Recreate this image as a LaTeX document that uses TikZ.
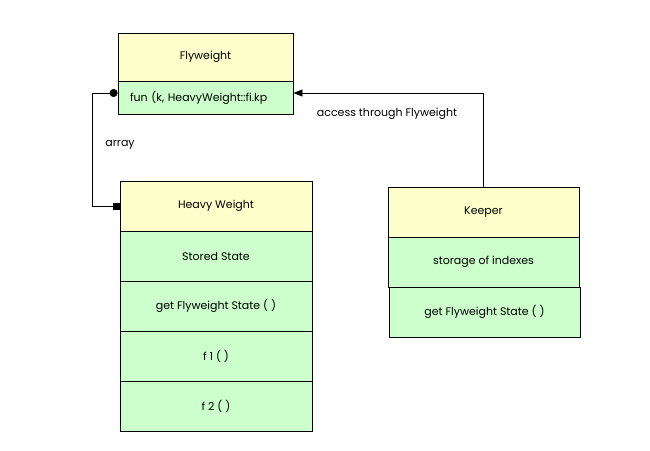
\documentclass[tikz,border=0pt]{standalone}
\usepackage{fontspec}
\setmainfont{Poppins}
\usepackage{tikz}
\usetikzlibrary{arrows.meta,calc}
\definecolor{head}{HTML}{FFFFCC}
\definecolor{body}{HTML}{CCFFCC}
\tikzset{
  every picture/.style={line cap=butt, line join=miter},
  box/.style={draw=black, line width=0.8pt, rectangle, inner sep=0pt,
    font=\fontsize{11}{13}\selectfont},
  hdr/.style={box, fill=head},
  cell/.style={box, fill=body},
  conn/.style={draw=black, line width=0.8pt},
  lab/.style={font=\fontsize{11}{13}\selectfont}
}

\begin{document}
\begin{tikzpicture}[x=1pt, y=-1pt]
  \useasboundingbox (0,0) rectangle (650,450);

  % Flyweight
  \node[hdr, minimum width=175pt, minimum height=48pt] (fw) at (205.5,57) {Flyweight};
  \node[cell, minimum width=175pt, minimum height=33pt, text width=151pt, align=left]
    (fwop) at (205.5,97.5) {fun (k, HeavyWeight::fi.kp};

  % Heavy Weight
  \node[hdr, minimum width=192pt, minimum height=50pt] (hw) at (216,206) {Heavy Weight};
  \node[cell, minimum width=192pt, minimum height=50pt] (hwst) at (216,256) {Stored State};
  \node[cell, minimum width=192pt, minimum height=50pt] (hwget) at (216,306) {get Flyweight State ( )};
  \node[cell, minimum width=192pt, minimum height=50pt] (hwfa) at (216,356) {f 1 ( )};
  \node[cell, minimum width=192pt, minimum height=50pt] (hwfb) at (216,406) {f 2 ( )};

  % Keeper
  \node[hdr, minimum width=191pt, minimum height=50pt] (kp) at (483.5,212) {Keeper};
  \node[cell, minimum width=191pt, minimum height=50pt] (kpst) at (483.5,262) {storage of indexes};
  \node[cell, minimum width=191pt, minimum height=50pt] (kpget) at (484.5,312) {get Flyweight State ( )};

  % array link
  \draw[conn, {Circle[length=8pt]}-{Square[length=7pt,width=7pt]}]
    ([yshift=4.5pt]fwop.west) -- ++(-25,0) |- (hw.west);
  \node[lab] (arr) at (120,145) {array};

  % access link
  \draw[conn, -{Triangle[length=9pt,width=7pt]}]
    (kp.north) |- ([yshift=4.5pt]fwop.east);
  \node[lab] (acc) at (387,114) {access through Flyweight};
\end{tikzpicture}
\end{document}
